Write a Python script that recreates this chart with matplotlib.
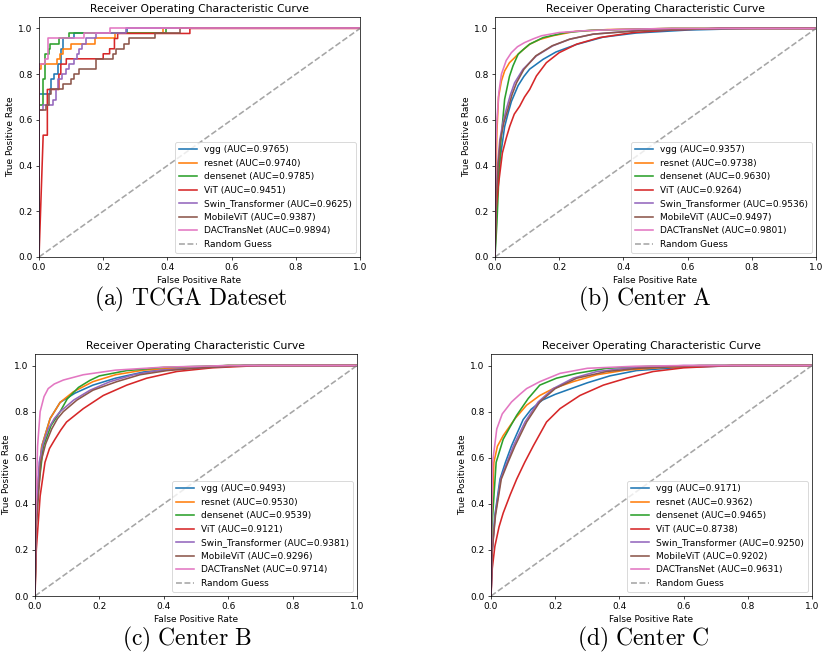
import matplotlib
matplotlib.use("Agg")
import matplotlib.pyplot as plt

# shared
models = ["vgg", "resnet", "densenet", "ViT", "Swin_Transformer", "MobileViT", "DACTransNet"]
colors = ["#1f77b4", "#ff7f0e", "#2ca02c", "#d62728", "#9467bd", "#8c564b", "#e377c2"]
captions = ["(a)\\ TCGA\\ Dateset", "(b)\\ Center\\ A", "(c)\\ Center\\ B", "(d)\\ Center\\ C"]

# (a) TCGA - step curves
auc_a = [0.9765, 0.9740, 0.9785, 0.9451, 0.9625, 0.9387, 0.9894]
a_vgg_fpr = [0, 0, 0.034, 0.034, 0.037, 0.037, 0.048, 0.048, 0.058, 0.058, 0.068, 0.068, 0.075, 0.075, 0.11, 0.11, 0.275, 0.275, 1]
a_vgg_tpr = [0, 0.711, 0.711, 0.733, 0.733, 0.778, 0.778, 0.8, 0.8, 0.844, 0.844, 0.911, 0.911, 0.956, 0.956, 0.978, 0.978, 1, 1]
a_res_fpr = [0, 0, 0.006, 0.006, 0.057, 0.057, 0.065, 0.065, 0.075, 0.075, 0.1, 0.1, 0.174, 0.174, 0.237, 0.237, 0.385, 0.385, 1]
a_res_tpr = [0, 0.822, 0.822, 0.844, 0.844, 0.867, 0.867, 0.889, 0.889, 0.911, 0.911, 0.933, 0.933, 0.956, 0.956, 0.978, 0.978, 1, 1]
a_den_fpr = [0, 0, 0.014, 0.014, 0.02, 0.02, 0.03, 0.03, 0.035, 0.035, 0.062, 0.062, 0.094, 0.094, 0.395, 0.395, 1]
a_den_tpr = [0, 0.667, 0.667, 0.778, 0.778, 0.889, 0.889, 0.911, 0.911, 0.933, 0.933, 0.956, 0.956, 0.978, 0.978, 1, 1]
a_vit_fpr = [0, 0.013, 0.026, 0.026, 0.062, 0.062, 0.068, 0.068, 0.085, 0.085, 0.2, 0.2, 0.22, 0.22, 0.235, 0.235, 0.245, 0.245, 0.47, 0.47, 1]
a_vit_tpr = [0, 0.533, 0.533, 0.733, 0.733, 0.8, 0.8, 0.844, 0.844, 0.867, 0.867, 0.889, 0.889, 0.911, 0.911, 0.956, 0.956, 0.978, 0.978, 1, 1]
a_swin_fpr = [0, 0, 0.012, 0.012, 0.045, 0.045, 0.052, 0.052, 0.06, 0.06, 0.072, 0.072, 0.085, 0.085, 0.095, 0.095, 0.11, 0.11,
              0.118, 0.118, 0.125, 0.125, 0.135, 0.135, 0.145, 0.145, 0.178, 0.178, 0.27, 0.27, 1]
a_swin_tpr = [0, 0.644, 0.644, 0.667, 0.667, 0.689, 0.689, 0.733, 0.733, 0.778, 0.778, 0.8, 0.8, 0.822, 0.822, 0.844, 0.844, 0.867,
              0.867, 0.889, 0.889, 0.911, 0.911, 0.933, 0.933, 0.956, 0.956, 0.978, 0.978, 1, 1]
a_mob_fpr = [0, 0, 0.022, 0.022, 0.03, 0.03, 0.036, 0.036, 0.075, 0.075, 0.1, 0.1, 0.11, 0.11, 0.125, 0.125, 0.178, 0.178,
             0.23, 0.23, 0.24, 0.24, 0.265, 0.265, 0.28, 0.28, 0.36, 0.36, 0.44, 0.44, 1]
a_mob_tpr = [0, 0.644, 0.644, 0.667, 0.667, 0.711, 0.711, 0.733, 0.733, 0.756, 0.756, 0.778, 0.778, 0.8, 0.8, 0.822, 0.822, 0.867,
             0.867, 0.889, 0.889, 0.911, 0.911, 0.933, 0.933, 0.956, 0.956, 0.978, 0.978, 1, 1]
a_dac_fpr = [0, 0, 0.02, 0.02, 0.027, 0.027, 0.14, 0.14, 0.22, 0.22, 1]
a_dac_tpr = [0, 0.844, 0.844, 0.867, 0.867, 0.956, 0.956, 0.978, 0.978, 1, 1]

# (b) Center A
auc_b = [0.9357, 0.9738, 0.9630, 0.9264, 0.9536, 0.9497, 0.9801]
b_vgg_fpr = [0, 0.003, 0.01, 0.017, 0.03, 0.04, 0.051, 0.072, 0.09, 0.108, 0.15, 0.19, 0.254, 0.337, 0.44, 0.6, 0.8, 1]
b_vgg_tpr = [0, 0.2, 0.35, 0.44, 0.57, 0.625, 0.68, 0.75, 0.79, 0.822, 0.865, 0.897, 0.93, 0.962, 0.98, 0.993, 1, 1]
b_res_fpr = [0, 0.002, 0.006, 0.011, 0.02, 0.03, 0.045, 0.056, 0.077, 0.108, 0.14, 0.18, 0.25, 0.35, 0.55, 1]
b_res_tpr = [0, 0.3, 0.55, 0.7, 0.77, 0.814, 0.85, 0.865, 0.894, 0.931, 0.952, 0.968, 0.987, 0.995, 1, 1]
b_den_fpr = [0, 0.006, 0.012, 0.018, 0.03, 0.045, 0.056, 0.072, 0.09, 0.108, 0.15, 0.22, 0.3, 0.55, 1]
b_den_tpr = [0, 0.15, 0.35, 0.5, 0.69, 0.79, 0.836, 0.887, 0.91, 0.931, 0.96, 0.982, 0.992, 1, 1]
b_vit_fpr = [0, 0.003, 0.01, 0.023, 0.035, 0.046, 0.06, 0.077, 0.092, 0.108, 0.129, 0.16, 0.2, 0.254, 0.326, 0.43, 0.55, 0.7, 1]
b_vit_tpr = [0, 0.2, 0.308, 0.455, 0.52, 0.572, 0.625, 0.66, 0.7, 0.733, 0.792, 0.85, 0.894, 0.931, 0.96, 0.982, 0.993, 1, 1]
b_swin_fpr = [0, 0.002, 0.008, 0.015, 0.025, 0.035, 0.048, 0.061, 0.087, 0.129, 0.18, 0.233, 0.306, 0.45, 0.7, 1]
b_swin_tpr = [0, 0.25, 0.4, 0.513, 0.59, 0.645, 0.71, 0.762, 0.821, 0.88, 0.924, 0.953, 0.975, 0.992, 1, 1]
b_mob_fpr = [0, 0.003, 0.01, 0.017, 0.028, 0.04, 0.053, 0.067, 0.09, 0.127, 0.178, 0.233, 0.306, 0.45, 0.7, 1]
b_mob_tpr = [0, 0.25, 0.4, 0.513, 0.59, 0.645, 0.71, 0.762, 0.821, 0.88, 0.924, 0.953, 0.975, 0.99, 1, 1]
b_dac_fpr = [0, 0.001, 0.003, 0.006, 0.012, 0.02, 0.035, 0.051, 0.07, 0.092, 0.12, 0.145, 0.2, 0.28, 0.4, 0.55, 1]
b_dac_tpr = [0, 0.3, 0.5, 0.6, 0.72, 0.8, 0.86, 0.894, 0.92, 0.938, 0.955, 0.968, 0.982, 0.99, 0.996, 1, 1]

# (c) Center B
auc_c = [0.9493, 0.9530, 0.9539, 0.9121, 0.9381, 0.9296, 0.9714]
c_vgg_fpr = [0, 0.003, 0.01, 0.021, 0.047, 0.078, 0.124, 0.18, 0.25, 0.337, 0.45, 0.6, 1]
c_vgg_tpr = [0, 0.3, 0.5, 0.65, 0.77, 0.84, 0.88, 0.915, 0.945, 0.972, 0.988, 1, 1]
c_res_fpr = [0, 0.003, 0.01, 0.021, 0.047, 0.078, 0.119, 0.18, 0.25, 0.337, 0.45, 0.6, 1]
c_res_tpr = [0, 0.3, 0.5, 0.65, 0.77, 0.84, 0.886, 0.93, 0.96, 0.98, 0.99, 1, 1]
c_den_fpr = [0, 0.003, 0.008, 0.026, 0.05, 0.078, 0.1, 0.135, 0.17, 0.2, 0.285, 0.4, 0.6, 1]
c_den_tpr = [0, 0.3, 0.434, 0.65, 0.74, 0.8, 0.855, 0.905, 0.935, 0.955, 0.978, 0.992, 1, 1]
c_vit_fpr = [0, 0.004, 0.016, 0.031, 0.045, 0.062, 0.08, 0.098, 0.15, 0.212, 0.285, 0.347, 0.44, 0.55, 0.7, 1]
c_vit_tpr = [0, 0.2, 0.434, 0.58, 0.64, 0.68, 0.72, 0.755, 0.813, 0.87, 0.915, 0.945, 0.974, 0.99, 1, 1]
c_swin_fpr = [0, 0.003, 0.013, 0.025, 0.041, 0.06, 0.078, 0.12, 0.171, 0.233, 0.306, 0.39, 0.5, 0.65, 1]
c_swin_tpr = [0, 0.3, 0.58, 0.66, 0.725, 0.77, 0.8, 0.85, 0.893, 0.93, 0.96, 0.98, 0.99, 1, 1]
c_mob_fpr = [0, 0.004, 0.018, 0.033, 0.052, 0.07, 0.088, 0.13, 0.18, 0.254, 0.326, 0.41, 0.52, 0.65, 1]
c_mob_tpr = [0, 0.3, 0.58, 0.66, 0.725, 0.77, 0.8, 0.85, 0.893, 0.93, 0.96, 0.978, 0.99, 1, 1]
c_dac_fpr = [0, 0.002, 0.008, 0.016, 0.028, 0.041, 0.06, 0.088, 0.15, 0.25, 0.4, 0.6, 1]
c_dac_tpr = [0, 0.35, 0.65, 0.8, 0.865, 0.9, 0.92, 0.937, 0.96, 0.98, 0.993, 1, 1]

# (d) Center C
auc_d = [0.9171, 0.9362, 0.9465, 0.8738, 0.9250, 0.9202, 0.9631]
d_vgg_fpr = [0, 0.004, 0.012, 0.028, 0.045, 0.064, 0.1, 0.125, 0.16, 0.2, 0.25, 0.3, 0.37, 0.453, 0.6, 0.8, 1]
d_vgg_tpr = [0, 0.2, 0.35, 0.507, 0.58, 0.652, 0.765, 0.81, 0.85, 0.875, 0.9, 0.925, 0.955, 0.978, 0.993, 1, 1]
d_res_fpr = [0, 0.002, 0.009, 0.02, 0.038, 0.075, 0.111, 0.152, 0.194, 0.256, 0.33, 0.42, 0.55, 0.75, 1]
d_res_tpr = [0, 0.3, 0.58, 0.65, 0.696, 0.77, 0.828, 0.87, 0.9, 0.93, 0.96, 0.98, 0.993, 1, 1]
d_den_fpr = [0, 0.003, 0.016, 0.038, 0.06, 0.08, 0.116, 0.152, 0.204, 0.267, 0.36, 0.5, 0.7, 1]
d_den_tpr = [0, 0.3, 0.58, 0.68, 0.735, 0.784, 0.857, 0.915, 0.945, 0.966, 0.988, 0.997, 1, 1]
d_vit_fpr = [0, 0.004, 0.012, 0.025, 0.038, 0.06, 0.08, 0.105, 0.132, 0.173, 0.215, 0.277, 0.35, 0.422, 0.505, 0.6, 0.75, 1]
d_vit_tpr = [0, 0.12, 0.215, 0.3, 0.36, 0.44, 0.507, 0.58, 0.652, 0.755, 0.813, 0.87, 0.915, 0.945, 0.974, 0.99, 1, 1]
d_swin_fpr = [0, 0.004, 0.013, 0.03, 0.05, 0.07, 0.106, 0.147, 0.194, 0.256, 0.33, 0.42, 0.6, 1]
d_swin_tpr = [0, 0.2, 0.35, 0.507, 0.58, 0.652, 0.755, 0.842, 0.9, 0.945, 0.974, 0.988, 1, 1]
d_mob_fpr = [0, 0.004, 0.014, 0.032, 0.053, 0.075, 0.111, 0.152, 0.2, 0.267, 0.36, 0.46, 0.65, 1]
d_mob_tpr = [0, 0.2, 0.35, 0.507, 0.58, 0.652, 0.755, 0.842, 0.9, 0.945, 0.974, 0.988, 1, 1]
d_dac_fpr = [0, 0.002, 0.005, 0.018, 0.035, 0.064, 0.09, 0.111, 0.152, 0.215, 0.3, 0.45, 0.6, 1]
d_dac_tpr = [0, 0.35, 0.58, 0.725, 0.79, 0.842, 0.875, 0.9, 0.93, 0.966, 0.988, 0.997, 1, 1]

panels = [
    (auc_a, [(a_vgg_fpr, a_vgg_tpr), (a_res_fpr, a_res_tpr), (a_den_fpr, a_den_tpr), (a_vit_fpr, a_vit_tpr),
             (a_swin_fpr, a_swin_tpr), (a_mob_fpr, a_mob_tpr), (a_dac_fpr, a_dac_tpr)]),
    (auc_b, [(b_vgg_fpr, b_vgg_tpr), (b_res_fpr, b_res_tpr), (b_den_fpr, b_den_tpr), (b_vit_fpr, b_vit_tpr),
             (b_swin_fpr, b_swin_tpr), (b_mob_fpr, b_mob_tpr), (b_dac_fpr, b_dac_tpr)]),
    (auc_c, [(c_vgg_fpr, c_vgg_tpr), (c_res_fpr, c_res_tpr), (c_den_fpr, c_den_tpr), (c_vit_fpr, c_vit_tpr),
             (c_swin_fpr, c_swin_tpr), (c_mob_fpr, c_mob_tpr), (c_dac_fpr, c_dac_tpr)]),
    (auc_d, [(d_vgg_fpr, d_vgg_tpr), (d_res_fpr, d_res_tpr), (d_den_fpr, d_den_tpr), (d_vit_fpr, d_vit_tpr),
             (d_swin_fpr, d_swin_tpr), (d_mob_fpr, d_mob_tpr), (d_dac_fpr, d_dac_tpr)]),
]

s = 0.648  # each panel is a default-size plot scaled down
plt.rcParams.update({
    "font.size": 10 * s,
    "axes.linewidth": 0.8 * s,
    "xtick.major.size": 3.5 * s, "ytick.major.size": 3.5 * s,
    "xtick.major.width": 0.8 * s, "ytick.major.width": 0.8 * s,
    "xtick.major.pad": 3.5 * s, "ytick.major.pad": 3.5 * s,
    "axes.labelpad": 4 * s,
    "axes.titlepad": 6 * s,
    "patch.linewidth": 1.0 * s,
    "mathtext.fontset": "cm",
})

W, H = 823, 654
fig = plt.figure(figsize=(W / 100, H / 100), dpi=100)

# axes boxes in pixels: left, top, right, bottom
boxes = [(39, 17, 360, 257), (495, 17, 816, 257), (35, 354, 357, 596), (491, 354, 812, 596)]
# caption centre x and baseline y in pixels
cap_pos = [(191, 305), (645, 305), (187, 645), (643, 645)]

for i, (aucs, curves) in enumerate(panels):
    l, t, r, b = boxes[i]
    ax = fig.add_axes([l / W, (H - b) / H, (r - l) / W, (b - t) / H])
    for name, col, auc, (fpr, tpr) in zip(models, colors, aucs, curves):
        ax.plot(fpr, tpr, color=col, lw=1.15, label=f"{name} (AUC={auc:.4f})")
    ax.plot([0, 1], [0, 1], color="gray", ls="--", lw=1.15, alpha=0.7, label="Random Guess")
    ax.set_xlim(0, 1)
    ax.set_ylim(0, 1.05)
    ax.set_xlabel("False Positive Rate")
    ax.set_ylabel("True Positive Rate")
    ax.set_title("Receiver Operating Characteristic Curve", fontsize=12 * s)
    ax.legend(loc="lower right")
    cx, cy = cap_pos[i]
    fig.text(cx / W, (H - cy) / H, "$\\mathrm{" + captions[i] + "}$", fontsize=17, ha="center", va="baseline")

fig.savefig("out.png", dpi=100)
